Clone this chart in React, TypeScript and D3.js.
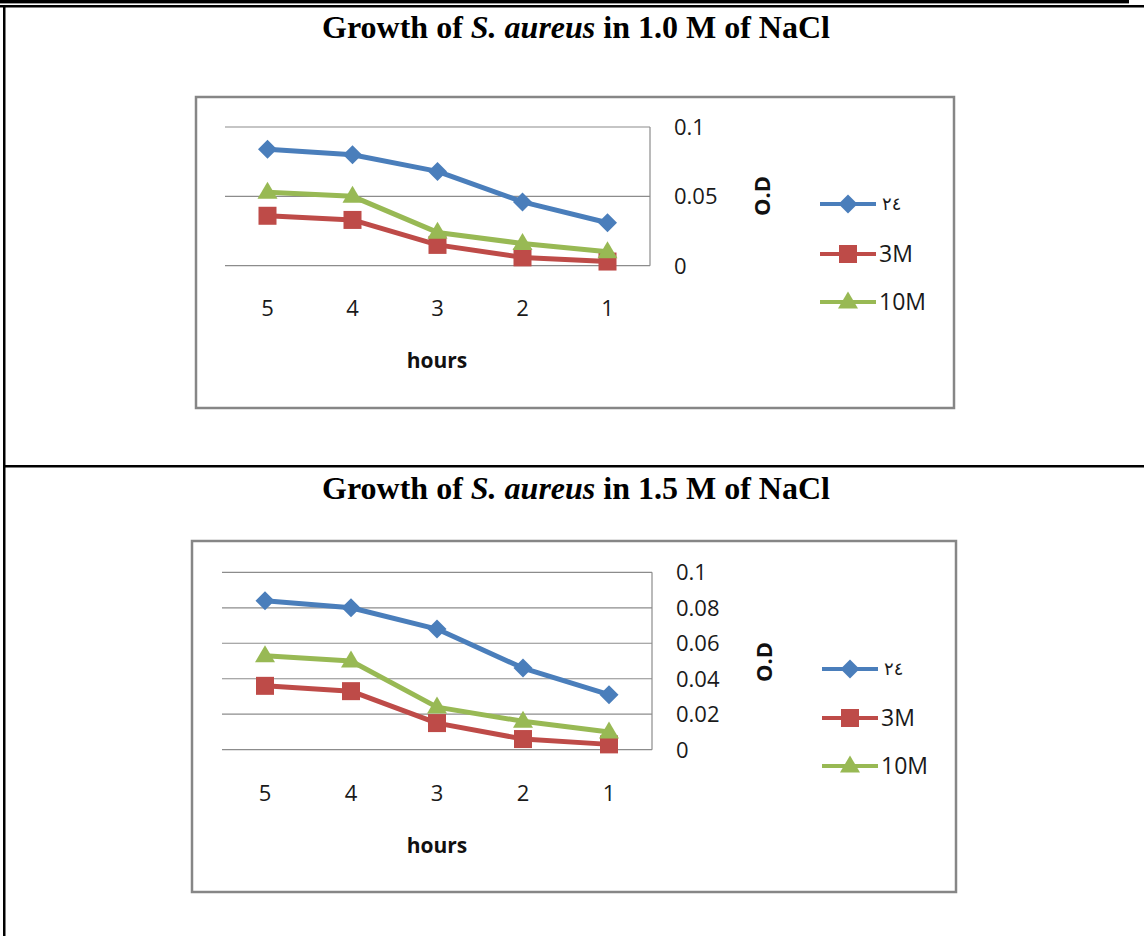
import React from 'react';
import * as d3 from 'd3';

const categories = ['5', '4', '3', '2', '1'];
const seriesNames = ['٢٤', '3M', '10M'];
const series24 = [0.084, 0.080, 0.068, 0.046, 0.031];
const series3M = [0.036, 0.033, 0.015, 0.006, 0.003];
const series10M = [0.053, 0.050, 0.024, 0.016, 0.010];
const ticksA = [0, 0.05, 0.1];
const ticksB = [0, 0.02, 0.04, 0.06, 0.08, 0.1];
const titleConc = ['1.0', '1.5'];

const colors = ['#4A7EBB', '#BE4B48', '#98B954'];
const markerKinds = ['diamond', 'square', 'triangle'];
const allSeries = [series24, series3M, series10M];

const tickFont = "'Open Sans', 'Liberation Sans', sans-serif";

function Marker({ kind, x, y, color }: { kind: string; x: number; y: number; color: string }) {
  if (kind === 'diamond') {
    const r = 9.5;
    return <path d={`M${x},${y - r}L${x + r},${y}L${x},${y + r}L${x - r},${y}Z`} fill={color} />;
  }
  if (kind === 'square') {
    const s = 9;
    return <rect x={x - s} y={y - s} width={s * 2} height={s * 2} fill={color} />;
  }
  const w = 10, h = 17;
  return <path d={`M${x},${y - h * 0.62}L${x + w},${y + h * 0.38}L${x - w},${y + h * 0.38}Z`} fill={color} />;
}

interface ChartProps {
  box: [number, number, number, number];
  plot: { left: number; right: number; top: number; bottom: number };
  ticks: number[];
  tickFmt: (v: number) => string;
  catY: number;
  hoursY: number;
  odY: number;
  legendY: number[];
}

function Chart({ box, plot, ticks, tickFmt, catY, hoursY, odY, legendY }: ChartProps) {
  const x = d3.scaleBand().domain(categories).range([plot.left, plot.right]);
  const y = d3.scaleLinear().domain([0, 0.1]).range([plot.bottom, plot.top]);
  const cx = (c: string) => (x(c) || 0) + x.bandwidth() / 2;
  const line = d3.line<number>().x((_, i) => cx(categories[i])).y(d => y(d));

  return (
    <g>
      <rect x={box[0]} y={box[1]} width={box[2] - box[0]} height={box[3] - box[1]}
        fill="#fff" stroke="#868686" strokeWidth={2.5} />
      {ticks.map(t => (
        <line key={t} x1={plot.left} x2={plot.right} y1={y(t)} y2={y(t)} stroke="#8c8c8c" strokeWidth={1.2} />
      ))}
      <line x1={plot.right} x2={plot.right} y1={plot.top} y2={plot.bottom} stroke="#8c8c8c" strokeWidth={1.2} />
      {ticks.map(t => (
        <text key={t} x={plot.right + 24} y={y(t)} dy="0.36em" fontFamily={tickFont} fontSize={22} fill="#1a1a1a">
          {tickFmt(t)}
        </text>
      ))}
      {categories.map(c => (
        <text key={c} x={cx(c)} y={catY} dy="0.36em" textAnchor="middle" fontFamily={tickFont} fontSize={22} fill="#1a1a1a">
          {c}
        </text>
      ))}
      <text x={437} y={hoursY} dy="0.36em" textAnchor="middle" fontFamily={tickFont} fontSize={21} fontWeight="bold" fill="#111">
        hours
      </text>
      <text transform={`translate(${plot.right + 112},${odY}) rotate(-90)`} dy="0.36em" textAnchor="middle"
        fontFamily={tickFont} fontSize={22} fontWeight="bold" fill="#111">
        O.D
      </text>
      {allSeries.map((s, k) => (
        <g key={k}>
          <path d={line(s) || ''} fill="none" stroke={colors[k]} strokeWidth={5} strokeLinejoin="round" />
          {s.map((v, i) => (
            <Marker key={i} kind={markerKinds[k]} x={cx(categories[i])} y={y(v)} color={colors[k]} />
          ))}
        </g>
      ))}
      {seriesNames.map((n, k) => (
        <g key={n}>
          <line x1={plot.right + 170} x2={plot.right + 226} y1={legendY[k]} y2={legendY[k]} stroke={colors[k]} strokeWidth={4} />
          <Marker kind={markerKinds[k]} x={plot.right + 198} y={legendY[k]} color={colors[k]} />
          <text x={plot.right + (k === 0 ? 232 : 229)} y={legendY[k]} dy="0.36em"
            fontFamily={k === 0 ? "'DejaVu Sans', sans-serif" : tickFont} fontSize={k === 0 ? 18 : 23} fill="#1a1a1a">
            {n}
          </text>
        </g>
      ))}
    </g>
  );
}

function Title({ y, conc }: { y: number; conc: string }) {
  return (
    <text x={576} y={y} textAnchor="middle" fontFamily="'Liberation Serif', 'Times New Roman', serif"
      fontSize={32} fontWeight="bold" fill="#000">
      Growth of <tspan fontStyle="italic">S. aureus</tspan> in {conc} M of NaCl
    </text>
  );
}

export default function App() {
  return (
    <div style={{ position: 'absolute', left: 0, top: 0 }}>
      <svg width={1144} height={936} style={{ display: 'block', background: '#fff' }}>
        <rect x={0} y={0} width={1129} height={3} fill="#000" />
        <rect x={0} y={3} width={1129} height={1} fill="#9a9a9a" />
        <rect x={0} y={5} width={1144} height={2.5} fill="#000" />
        <rect x={3} y={5} width={2.5} height={931} fill="#000" />
        <rect x={3} y={465} width={1141} height={2.5} fill="#000" />

        <Title y={38} conc={titleConc[0]} />
        <Chart
          box={[196, 97, 954, 408]}
          plot={{ left: 225, right: 650, top: 127, bottom: 265.7 }}
          ticks={ticksA}
          tickFmt={v => (v === 0 ? '0' : String(v))}
          catY={308}
          hoursY={360}
          odY={196}
          legendY={[204, 254, 302]}
        />

        <Title y={499} conc={titleConc[1]} />
        <Chart
          box={[192, 541, 956, 892]}
          plot={{ left: 222, right: 652, top: 572.3, bottom: 749.7 }}
          ticks={ticksB}
          tickFmt={v => (v === 0 ? '0' : String(+v.toFixed(2)))}
          catY={793}
          hoursY={845}
          odY={662}
          legendY={[669, 718, 766]}
        />
      </svg>
    </div>
  );
}
